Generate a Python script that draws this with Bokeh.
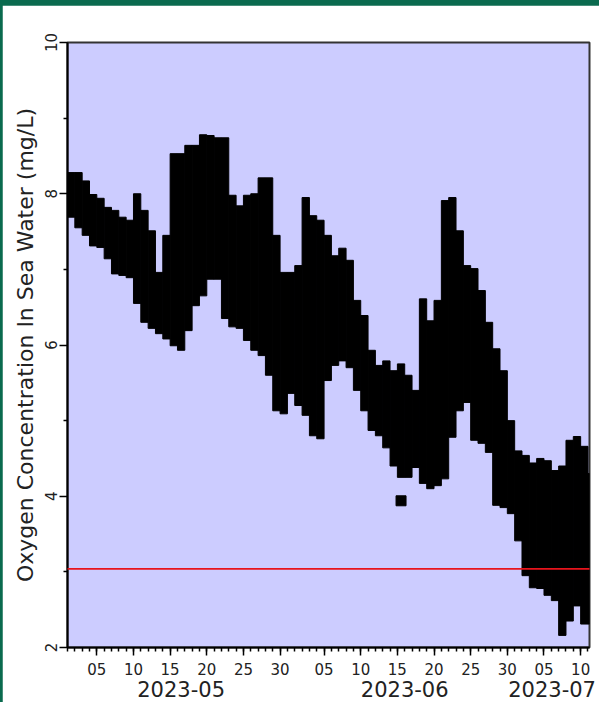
import pandas as pd
from bokeh.plotting import figure
from bokeh.models import (DatetimeAxis, FixedTicker, DatetimeTickFormatter,
                          BoxAnnotation, ColumnDataSource, Range1d)
from bokeh.layouts import column
from bokeh.embed import file_html
from bokeh.resources import INLINE

# ---- data ----
# one entry per day, 2023-05-01 .. 2023-07-11 (daily max / min of the dense point cloud)
day_centers = pd.date_range("2023-05-01 12:00", periods=72, freq="D")
o2_high = [8.28, 8.28, 8.17, 7.99, 7.94, 7.82, 7.78, 7.69, 7.65, 8.00,
           7.78, 7.51, 6.96, 7.45, 8.53, 8.53, 8.64, 8.64, 8.78, 8.77,
           8.74, 8.74, 7.98, 7.84, 7.98, 8.00, 8.21, 8.21, 7.45, 6.96,
           6.96, 7.05, 7.95, 7.71, 7.65, 7.45, 7.18, 7.28, 7.12, 6.59,
           6.39, 5.93, 5.73, 5.79, 5.66, 5.75, 5.60, 5.40, 6.61, 6.32,
           6.59, 7.91, 7.95, 7.51, 7.05, 7.01, 6.72, 6.30, 5.95, 5.66,
           5.00, 4.60, 4.54, 4.44, 4.50, 4.47, 4.34, 4.40, 4.74, 4.79,
           4.66, 4.30]
o2_low = [7.69, 7.55, 7.45, 7.31, 7.29, 7.14, 6.94, 6.92, 6.89, 6.55,
          6.30, 6.22, 6.15, 6.08, 5.99, 5.93, 6.19, 6.52, 6.65, 6.87,
          6.87, 6.35, 6.24, 6.22, 6.06, 5.93, 5.86, 5.60, 5.13, 5.09,
          5.36, 5.20, 5.07, 4.80, 4.76, 5.53, 5.73, 5.79, 5.70, 5.40,
          5.13, 4.87, 4.80, 4.64, 4.40, 4.25, 4.25, 4.38, 4.17, 4.10,
          4.14, 4.23, 4.78, 5.13, 5.24, 4.74, 4.70, 4.58, 3.88, 3.85,
          3.77, 3.41, 2.95, 2.79, 2.78, 2.69, 2.62, 2.16, 2.35, 2.55,
          2.31, 2.31]
lone_time = [pd.Timestamp("2023-06-15 12:00")]
lone_value = [3.94]
threshold = 3.04

y_ticks = [2, 4, 6, 8, 10]
y_minor = [3, 5, 7, 9]
x_start = pd.Timestamp("2023-05-01 00:00")
x_end = pd.Timestamp("2023-07-11 05:00")
all_days = pd.date_range("2023-05-01", "2023-07-11", freq="D")
month_starts = [pd.Timestamp("2023-05-01"), pd.Timestamp("2023-06-01"), pd.Timestamp("2023-07-01")]


def ms(t):
    return t.timestamp() * 1000.0


DAY = 86400000.0
label_days = [ms(d) for d in all_days if d.day % 5 == 0]
minor_days = [ms(d) for d in all_days]
bounds = [ms(m) for m in month_starts] + [ms(x_end)]
month_centers = [(bounds[i] + bounds[i + 1]) / 2 for i in range(3)]

FONT = "DejaVu Sans"
TXT = "#222222"


def fmt(s):
    return DatetimeTickFormatter(microseconds=s, milliseconds=s, seconds=s, minsec=s,
                                 minutes=s, hourmin=s, hours=s, days=s, months=s, years=s)


p = figure(width=597, height=697, output_backend="svg", toolbar_location=None,
           x_axis_type="datetime",
           x_range=Range1d(start=x_start, end=x_end), y_range=Range1d(start=2, end=10),
           min_border_left=65, min_border_right=10, min_border_top=37, min_border_bottom=55,
           background_fill_color="#ccccff", border_fill_color="white",
           outline_line_color="#333333", outline_line_width=2)
p.margin = (5, 0, 0, 2)
p.xgrid.visible = False
p.ygrid.visible = False

src = ColumnDataSource(dict(t=day_centers, high=o2_high, low=o2_low))
p.vbar(x="t", top="high", bottom="low", width=DAY, source=src,
       fill_color="black", line_color="black", line_width=1)
p.scatter(x=lone_time, y=lone_value, marker="square", size=10, color="black")

# ---- y axis ----
ya = p.yaxis[0]
ya.ticker = FixedTicker(ticks=y_ticks, minor_ticks=y_minor)
ya.axis_label = "Oxygen Concentration In Sea Water (mg/L)"
ya.axis_label_text_font = FONT
ya.axis_label_text_font_style = "normal"
ya.axis_label_text_font_size = "22px"
ya.axis_label_text_color = TXT
ya.axis_label_standoff = 4
ya.major_label_orientation = "vertical"
ya.major_label_text_font = FONT
ya.major_label_text_font_size = "15px"
ya.major_label_text_color = TXT
ya.major_label_standoff = 3
ya.major_tick_out = 8
ya.minor_tick_out = 4
ya.major_tick_in = 0
ya.minor_tick_in = 0
ya.axis_line_width = 2
ya.major_tick_line_width = 1.5
ya.minor_tick_line_width = 1.5

# ---- x axis: day numbers ----
xa = p.xaxis[0]
xa.ticker = FixedTicker(ticks=label_days, minor_ticks=minor_days)
xa.formatter = fmt("%d")
xa.major_label_text_font = FONT
xa.major_label_text_font_size = "15px"
xa.major_label_text_color = TXT
xa.major_label_standoff = 7
xa.major_tick_out = 8
xa.minor_tick_out = 4
xa.major_tick_in = 0
xa.minor_tick_in = 0
xa.axis_line_width = 2
xa.major_tick_line_width = 1.5
xa.minor_tick_line_width = 1.5

# ---- x axis: month labels ----
xb = DatetimeAxis(ticker=FixedTicker(ticks=month_centers), formatter=fmt("%Y-%m"))
xb.axis_line_color = None
xb.major_tick_line_color = None
xb.minor_tick_line_color = None
xb.major_tick_out = 0
xb.major_tick_in = 0
xb.major_label_standoff = 3
xb.major_label_text_font = FONT
xb.major_label_text_font_size = "21px"
xb.major_label_text_color = TXT
p.add_layout(xb, "below")

# ---- thick month-start tick marks: unlabelled axis pinned to the frame bottom ----
xc = DatetimeAxis(ticker=FixedTicker(ticks=[ms(m) for m in month_starts]),
                  formatter=fmt(""), fixed_location=2)
xc.axis_line_color = None
xc.minor_tick_line_color = None
xc.major_tick_out = 0
xc.major_tick_in = 10
xc.major_tick_line_width = 5
xc.major_tick_line_color = "black"
xc.major_label_text_font_size = "1px"
p.add_layout(xc, "above")

# ---- red reference line ----
p.add_layout(BoxAnnotation(left=-7, right=545, left_units="screen", right_units="screen",
                           top=threshold + 0.012, bottom=threshold - 0.012,
                           fill_color="#e8141c", fill_alpha=1, line_alpha=0, level="overlay"))

layout = column(p, styles={"background-color": "#0a6a4e"})
open("out.html", "w").write(file_html(layout, INLINE))
